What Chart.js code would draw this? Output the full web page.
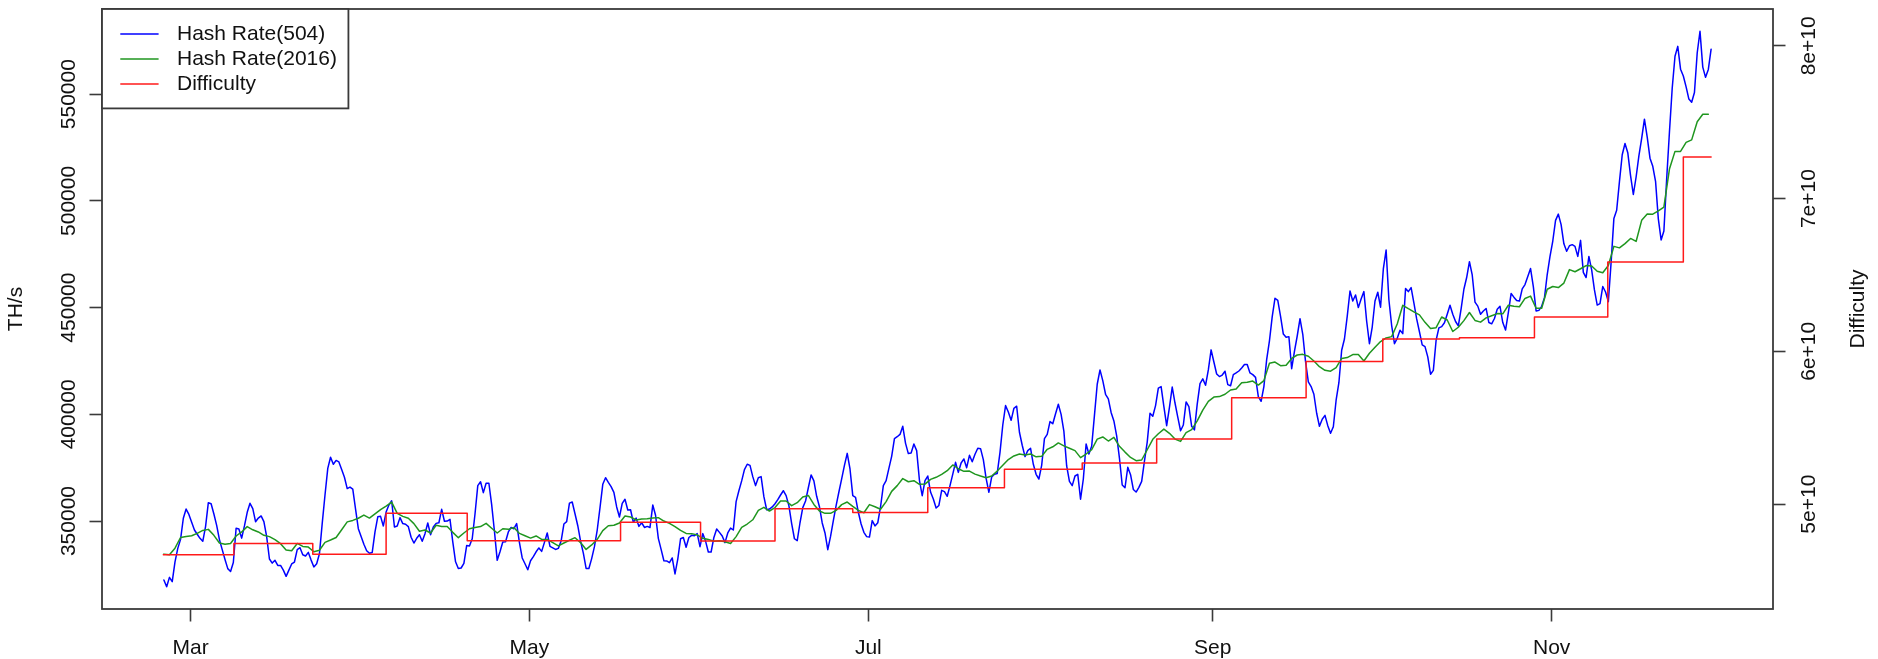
<!DOCTYPE html>
<html>
<head>
<meta charset="utf-8">
<title>Bitcoin hash rate and difficulty, 2015</title>
<script src="https://cdn.jsdelivr.net/npm/chart.js@4.4.1/dist/chart.umd.min.js"></script>
<style>
  html, body { margin: 0; padding: 0; background: #ffffff; }
  canvas { display: block; }
</style>
</head>
<body>
<canvas id="chart" width="1878" height="659"></canvas>
<script>
// Network hash rate estimated over the last 504 blocks (TH/s), one sample every 12 hours.
const hashRate504Start = '2015-02-24T04:48:00Z';
const hashRate504StepHours = 12;
const hashRate504 = [
  322400,319200,323600,321600,330900,337200,341400,351300,355600,353100,
  349400,345800,343800,341900,340500,347400,358600,358100,353300,348000,
  341300,336600,332000,327700,326400,330600,346600,346300,342000,347700,
  354100,358300,355800,349700,351400,352400,349700,342700,332200,330300,
  331600,329200,329200,327000,324100,327000,329900,330800,336600,337500,
  334200,333600,335300,331700,328500,330000,334700,348900,362200,374700,
  379900,376600,378400,377700,374200,370500,365200,365900,365000,355600,
  346400,342800,339100,336100,334900,335300,344900,352000,352200,347700,
  354200,357500,359500,347200,347700,351600,348800,348500,347400,342400,
  339700,341900,343600,340500,344100,349100,343600,347200,348900,349200,
  355500,349900,350000,350800,340200,330900,327800,328000,330200,338500,
  338300,341700,353300,366600,368400,363300,367700,367700,357700,345200,
  331600,335600,340200,340300,344900,347000,346400,348800,339900,332700,
  330000,327200,331400,333300,335600,337400,335800,340000,344400,338100,
  337400,336700,337200,340600,348600,349700,358400,358900,353400,347800,
  340600,335000,327800,327800,332400,338000,345800,356300,367200,370300,
  368100,366100,363400,356600,351900,358300,360200,355200,355300,349400,
  351400,347500,349200,347000,347500,347000,357500,352700,341900,336700,
  331400,331300,330500,332700,325200,332200,341700,342300,337700,342300,
  343300,343100,344100,338000,344100,340600,335500,335500,342300,346300,
  344700,343000,339900,344400,346700,345800,359100,364200,368800,374100,
  376600,376100,370800,366600,370300,370800,361400,355300,355600,356600,
  358100,360000,362200,364200,361900,357200,348800,341700,340800,349200,
  356300,359400,365600,371600,368800,361600,356700,349100,344400,336600,
  342800,350200,357200,363600,369800,376100,381700,374400,361900,361100,
  354100,348600,344700,342700,342500,350200,347700,349200,356700,366600,
  368900,374700,380300,388600,389500,390600,394400,386400,381600,381900,
  386100,383000,369100,361900,368900,371100,363600,360300,356100,357300,
  364400,363800,361600,366600,372000,377500,372800,377200,379100,375000,
  380800,377800,381300,384100,383900,378800,370000,363500,370600,371900,
  372300,382200,395000,404100,401100,397200,402800,403800,391600,385500,
  380200,383000,384100,376600,371900,369700,376100,388600,390600,396600,
  395600,400300,404700,400000,392000,375800,368600,366600,371100,371900,
  360200,369700,386100,381400,385000,399500,414100,420800,415800,409400,
  407200,400900,396900,389900,379500,366900,365600,375200,371700,364800,
  363600,365800,368600,378100,387000,400500,399100,404100,412300,413000,
  403600,394700,403300,412800,405300,398700,392300,395000,405800,403600,
  394400,392700,404800,414400,416600,413600,420800,430200,424500,418900,
  417700,418400,420200,413900,413400,418600,419400,420300,421700,423300,
  423300,419400,418600,417300,408300,406100,413000,425600,434400,445800,
  454400,453400,445900,437600,436100,436400,421400,429500,436700,444800,
  437500,424700,415200,413000,409400,400500,394400,397700,399500,394700,
  391100,394200,406600,414800,430000,435300,445900,457800,453100,455900,
  450000,454000,457500,443600,433100,440900,453100,457200,450200,468100,
  477000,453700,441600,433100,435600,439400,437800,458900,457500,459400,
  452200,444700,438700,432500,431700,426900,418800,420600,434700,440500,
  441100,442900,446900,451100,446900,443500,441400,449400,458600,464100,
  471500,465300,452600,450700,446900,448400,449600,443000,442400,444900,
  449200,450600,443000,439500,447700,456600,454900,453300,453100,458800,
  460800,464600,468300,459800,448400,448700,450600,454600,465500,474000,
  481200,490900,493800,488900,479900,476400,479000,479500,478700,474000,
  481500,466500,464100,474000,467700,458300,451200,451900,459900,457300,
  452800,471200,491800,495600,509000,521600,526900,522600,511800,503000,
  511200,521100,529300,538300,529900,520000,516200,509200,491600,481700,
  485900,510300,532300,552900,567800,572400,561700,558500,553400,547700,
  546200,550800,569400,579500,562700,557900,561600,571100
];

// Network hash rate estimated over the last 2016 blocks (TH/s), one sample per day.
const hashRate2016Start = '2015-02-24T04:48:00Z';
const hashRate2016StepHours = 24;
const hashRate2016 = [
  334500,334200,337300,342300,342800,343100,344200,345600,346100,343300,
  339700,339100,339500,343000,344900,347400,345900,344900,343300,342700,
  341300,339400,336400,336100,339500,338100,337800,335600,336300,340000,
  341100,342300,345900,349600,350300,351300,352800,351400,353400,355300,
  357000,358900,353600,352200,351300,348800,345200,345800,344400,348000,
  347400,347400,344700,342200,344400,346400,347000,347400,348900,346600,
  344400,346400,346100,347000,344200,343100,342000,343000,341400,341400,
  339900,338400,339700,341000,342200,339900,336700,338800,341400,345500,
  347800,348000,349100,352400,351900,350500,351000,351100,351400,351600,
  350000,348900,347400,345600,344200,344100,343500,341900,341400,340500,
  340800,340300,339500,342700,347000,348600,350600,355000,356400,354700,
  356300,359400,359400,357200,358600,361300,362000,357800,354700,353600,
  353600,355000,357700,358900,356900,355000,353900,357700,356700,355500,
  359100,363900,366600,369900,368400,368900,367200,367300,369500,370500,
  371900,373600,376300,374500,373300,373400,372000,371100,370300,371100,
  373400,376100,378800,380500,381400,380900,381400,380100,380300,383600,
  384800,386600,385200,384100,383000,379700,381400,383400,388400,389400,
  387500,389200,385000,382300,379800,378300,378600,383400,388300,390900,
  393100,391100,388400,387300,391400,392800,396900,402000,406100,408100,
  408300,409400,411400,411900,414800,415000,415600,413700,415800,423900,
  424500,422800,423000,426200,427800,428100,427200,425000,422300,420600,
  420200,421900,426200,426600,428000,428000,425000,428600,431400,434100,
  435800,436400,442300,451100,449500,448000,446600,443100,440200,440600,
  445600,444200,438800,440800,443900,447700,444000,443200,445200,446200,
  447200,447100,451100,450600,450400,454300,455400,449700,449700,458600,
  459900,459400,461500,467800,466800,468200,469700,469500,467000,466300,
  469700,478700,478000,480000,482400,481000,490900,493900,493800,495300,
  497100,514900,523200,523200,527400,528600,537100,540600,540600
];

// Difficulty retargets: time each value took effect, and the difficulty itself.
const difficultyEpochStart = [
  '2015-02-24T02:24Z','2015-03-08T19:12Z','2015-03-23T00:00Z','2015-04-05T04:48Z',
  '2015-04-19T19:12Z','2015-05-17T09:36Z','2015-05-31T19:12Z','2015-06-14T04:48Z',
  '2015-06-28T04:48Z','2015-07-11T16:48Z','2015-07-25T12:00Z','2015-08-08T12:00Z',
  '2015-08-21T21:36Z','2015-09-04T09:36Z','2015-09-17T19:12Z','2015-10-01T14:24Z',
  '2015-10-15T09:36Z','2015-10-28T21:36Z','2015-11-11T02:24Z','2015-11-24T16:48Z'
];
const difficulty = [
  46684376316, 47427554950, 46717549644, 49402014931,
  47610564513, 48807487244, 47589591153, 49692386355,
  49446390688, 51076366303, 52278304846, 52699842409,
  54256630328, 56957648455, 59335351234, 60813224039,
  60883825480, 62253982450, 65848255180, 72722780643
];
const difficultyEnd = '2015-11-29T16:48Z';

// Axis ticks and labels.
const monthTickDates = ['2015-03-01', '2015-05-01', '2015-07-01', '2015-09-01', '2015-11-01'];
const monthTickLabels = ['Mar', 'May', 'Jul', 'Sep', 'Nov'];
const hashRateTicks = [350000, 400000, 450000, 500000, 550000];
const difficultyTicks = [5e10, 6e10, 7e10, 8e10];

const seriesLabels = ['Hash Rate(504)', 'Hash Rate(2016)', 'Difficulty'];
const seriesColors = ['#0000ff', '#1f961f', '#ff1a1a'];

// ---------------------------------------------------------------------------
const HOUR_MS = 3600 * 1000;
// Difficulty D corresponds to a hash rate of D * 2^32 / 600 s, here in TH/s.
const DIFFICULTY_PER_THS = 600e12 / Math.pow(2, 32);

const FONT_FAMILY = '"Liberation Sans", Arial, Helvetica, sans-serif';
const FONT_SIZE = 21;
const TEXT_COLOR = '#111111';
const FRAME_COLOR = '#3a3a3a';
const TICK_LEN = 12.5;
const LINE_WIDTH = 1.5;

function regularSeries(startIso, stepHours, values) {
  const t0 = Date.parse(startIso);
  return values.map((v, i) => ({ x: t0 + i * stepHours * HOUR_MS, y: v }));
}

const pts504 = regularSeries(hashRate504Start, hashRate504StepHours, hashRate504);
const pts2016 = regularSeries(hashRate2016Start, hashRate2016StepHours, hashRate2016);
const ptsDifficulty = difficultyEpochStart.map((t, k) => ({ x: Date.parse(t), y: difficulty[k] }));
ptsDifficulty.push({ x: Date.parse(difficultyEnd), y: difficulty[difficulty.length - 1] });

// Axis limits: data extent widened by 4% on each side.
function widen(lo, hi) { const d = (hi - lo) * 0.04; return [lo - d, hi + d]; }
const [xMin, xMax] = widen(pts504[0].x, pts504[pts504.length - 1].x);
const [yMin, yMax] = widen(Math.min(...hashRate504), Math.max(...hashRate504));

// Tick label widths, used to centre the rotated labels at a fixed distance from the axis.
const measureCtx = document.createElement('canvas').getContext('2d');
measureCtx.font = FONT_SIZE + 'px ' + FONT_FAMILY;
const hashLabelWidth = measureCtx.measureText('550000').width;
const diffLabelWidth = measureCtx.measureText('8e+10').width;
const LEFT_LABEL_OFFSET = 33;   // axis line to label centre
const RIGHT_LABEL_OFFSET = 36;

const tickFont = { family: FONT_FAMILY, size: FONT_SIZE };

// Frame around the plot, boxed legend in the top-left corner, right axis title.
const framePlugin = {
  id: 'frameAndLegend',
  afterDatasetsDraw(chart) {
    const { ctx, chartArea } = chart;
    const { left, top, right, bottom } = chartArea;
    ctx.save();
    ctx.strokeStyle = FRAME_COLOR;
    ctx.lineWidth = 1.8;
    ctx.strokeRect(left, top, right - left, bottom - top);

    ctx.font = FONT_SIZE + 'px ' + FONT_FAMILY;
    const datasets = chart.data.datasets;
    const textX = 75, rowStep = 25;
    const maxText = Math.max(...datasets.map(d => ctx.measureText(d.label).width));
    const boxW = textX + maxText + 11.5;
    const boxH = rowStep * datasets.length + 24.4;
    ctx.fillStyle = '#ffffff';
    ctx.fillRect(left, top, boxW, boxH);
    ctx.strokeRect(left, top, boxW, boxH);
    datasets.forEach((d, k) => {
      const y = top + rowStep * (k + 1);
      ctx.strokeStyle = d.borderColor;
      ctx.lineWidth = LINE_WIDTH;
      ctx.beginPath();
      ctx.moveTo(left + 18.3, y);
      ctx.lineTo(left + 56.6, y);
      ctx.stroke();
      ctx.fillStyle = TEXT_COLOR;
      ctx.textAlign = 'left';
      ctx.textBaseline = 'middle';
      ctx.fillText(d.label, left + textX, y);
    });

    const yAxis2 = chart.scales.y2;
    ctx.translate(yAxis2.left + 85, (top + bottom) / 2);
    ctx.rotate(-Math.PI / 2);
    ctx.fillStyle = TEXT_COLOR;
    ctx.textAlign = 'center';
    ctx.textBaseline = 'middle';
    ctx.fillText('Difficulty', 0, 0);
    ctx.restore();
  }
};

const gridOpts = {
  drawOnChartArea: false,
  drawTicks: true,
  tickLength: TICK_LEN,
  tickColor: FRAME_COLOR,
  tickWidth: 1.6
};

new Chart(document.getElementById('chart').getContext('2d'), {
  type: 'line',
  data: {
    datasets: [
      { label: seriesLabels[0], data: pts504, borderColor: seriesColors[0], yAxisID: 'y', order: 3 },
      { label: seriesLabels[1], data: pts2016, borderColor: seriesColors[1], yAxisID: 'y', order: 2 },
      { label: seriesLabels[2], data: ptsDifficulty, borderColor: seriesColors[2], yAxisID: 'y2', stepped: true, order: 1 }
    ]
  },
  options: {
    responsive: false,
    animation: false,
    devicePixelRatio: 1,
    parsing: false,
    normalized: true,
    layout: { padding: { top: 9, left: 0, right: 0, bottom: 0 } },
    elements: {
      point: { radius: 0 },
      line: { tension: 0, borderWidth: LINE_WIDTH, borderJoinStyle: 'round', borderCapStyle: 'round', fill: false }
    },
    plugins: { legend: { display: false }, tooltip: { enabled: false } },
    scales: {
      x: {
        type: 'linear',
        position: 'bottom',
        min: xMin,
        max: xMax,
        afterBuildTicks: (scale) => { scale.ticks = monthTickDates.map(d => ({ value: Date.parse(d + 'T00:00:00Z') })); },
        afterFit: (scale) => { scale.height = 50; },
        ticks: {
          autoSkip: false, maxRotation: 0, minRotation: 0,
          font: tickFont, color: TEXT_COLOR, padding: 14,
          callback: (value, index) => monthTickLabels[index]
        },
        grid: gridOpts,
        border: { display: false }
      },
      y: {
        type: 'linear',
        position: 'left',
        min: yMin,
        max: yMax,
        afterBuildTicks: (scale) => { scale.ticks = hashRateTicks.map(v => ({ value: v })); },
        afterFit: (scale) => { scale.width = 102; },
        ticks: {
          autoSkip: false, minRotation: 90, maxRotation: 90, crossAlign: 'center',
          font: tickFont, color: TEXT_COLOR,
          padding: LEFT_LABEL_OFFSET - TICK_LEN - hashLabelWidth / 2,
          callback: (value) => String(value)
        },
        title: {
          display: true, text: 'TH/s', font: tickFont, color: TEXT_COLOR,
          padding: { top: 4, bottom: 0 }
        },
        grid: gridOpts,
        border: { display: false }
      },
      y2: {
        type: 'linear',
        position: 'right',
        min: yMin * DIFFICULTY_PER_THS,
        max: yMax * DIFFICULTY_PER_THS,
        afterBuildTicks: (scale) => { scale.ticks = difficultyTicks.map(v => ({ value: v })); },
        afterFit: (scale) => { scale.width = 105; },
        ticks: {
          autoSkip: false, minRotation: 90, maxRotation: 90, crossAlign: 'center',
          font: tickFont, color: TEXT_COLOR,
          padding: RIGHT_LABEL_OFFSET - TICK_LEN - diffLabelWidth / 2,
          callback: (value) => Number(value).toExponential()
        },
        grid: gridOpts,
        border: { display: false }
      }
    }
  },
  plugins: [framePlugin]
});
</script>
</body>
</html>
